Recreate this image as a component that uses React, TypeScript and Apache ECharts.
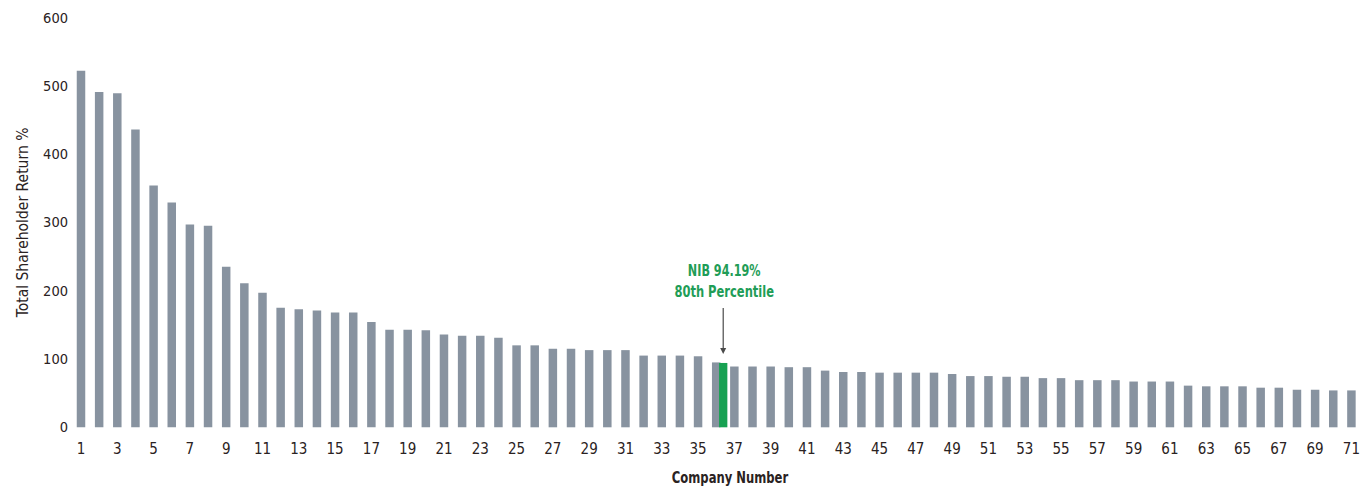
import React, { useEffect, useRef } from "react";
import * as echarts from "echarts";

const companies: string[] = Array.from({ length: 71 }, (_, i) => String(i + 1));
const returns: number[] = [
  522, 491, 489, 436, 354, 329, 297, 295, 235, 211,
  197, 175, 173, 171, 168, 168, 154, 143, 143, 142,
  136, 134, 134, 131, 120, 120, 115, 115, 113, 113,
  113, 105, 105, 105, 104, 95, 89, 89, 89, 88,
  88, 83, 81, 81, 80, 80, 80, 80, 78, 75,
  75, 74, 74, 72, 72, 69, 69, 69, 67, 67,
  67, 61, 60, 60, 60, 58, 58, 55, 55, 54, 54,
];
const nibIndex = 35;
const nibValue = 94.19;
const nibLabel = ["NIB 94.19%", "80th Percentile"];
const xTitle = "Company Number";
const yTitle = "Total Shareholder Return %";

const FONT = '"Liberation Sans Narrow", "DejaVu Sans Condensed", "Arial Narrow", sans-serif';
const TEXT = "#2a2222";
const GRAY = "#8893a0";
const GREEN = "#17a152";
const GREEN_TEXT = "#1f9d57";

export default function App() {
  const ref = useRef<HTMLDivElement>(null);
  useEffect(() => {
    document.documentElement.style.margin = "0";
    document.documentElement.style.overflow = "hidden";
    document.body.style.margin = "0";
    document.body.style.overflow = "hidden";
    const chart = echarts.init(ref.current!, null, { renderer: "svg" });
    chart.setOption({
      animation: false,
      backgroundColor: "#ffffff",
      grid: { left: 81, right: 5.3, top: 17.5, bottom: 58.7 },
      graphic: [
        {
          type: "text",
          x: 730,
          y: 478,
          scaleX: 0.86,
          style: {
            text: xTitle,
            x: 0,
            y: 0,
            align: "center",
            verticalAlign: "middle",
            fill: TEXT,
            font: `bold 15px ${FONT}`,
          },
        },
      ],
      xAxis: {
        type: "category",
        data: companies,
        boundaryGap: false,
        axisLine: { show: false },
        axisTick: { show: false },
        axisLabel: {
          interval: 1,
          color: TEXT,
          fontFamily: FONT,
          fontSize: 15,
          margin: 14,
        },
      },
      yAxis: {
        type: "value",
        min: 0,
        max: 600,
        interval: 100,
        splitLine: { show: false },
        axisLine: { show: false },
        axisTick: { show: false },
        axisLabel: {
          color: TEXT,
          fontFamily: FONT,
          fontSize: 14.5,
          margin: 13,
          padding: [5, 0, 0, 0],
        },
        name: yTitle,
        nameLocation: "middle",
        nameGap: 50,
        nameTextStyle: { color: TEXT, fontFamily: FONT, fontSize: 15.5 },
      },
      series: [
        {
          type: "bar",
          data: returns,
          barWidth: 8.5,
          clip: false,
          itemStyle: { color: GRAY },
        },
        {
          type: "custom",
          data: [[nibIndex, nibValue]],
          clip: false,
          z: 5,
          renderItem: (params: any, api: any) => {
            const idx = api.value(0);
            const val = api.value(1);
            const top = api.coord([idx, val]);
            const base = api.coord([idx, 0]);
            const cx = top[0] + 7;
            const w = 8.3;
            return {
              type: "group",
              children: [
                {
                  type: "rect",
                  shape: { x: cx - w / 2, y: top[1], width: w, height: base[1] - top[1] },
                  style: { fill: GREEN },
                },
                {
                  type: "line",
                  shape: { x1: cx, y1: top[1] - 55, x2: cx, y2: top[1] - 14 },
                  style: { stroke: "#4a4a4a", lineWidth: 1.2 },
                },
                {
                  type: "polygon",
                  shape: { points: [[cx - 3, top[1] - 15], [cx + 3, top[1] - 15], [cx, top[1] - 9]] },
                  style: { fill: "#4a4a4a" },
                },
                {
                  type: "text",
                  x: cx + 1,
                  y: top[1] - 93,
                  scaleX: 0.78,
                  style: {
                    text: nibLabel[0],
                    x: 0,
                    y: 0,
                    align: "center",
                    verticalAlign: "middle",
                    fill: GREEN_TEXT,
                    font: `bold 16px ${FONT}`,
                  },
                },
                {
                  type: "text",
                  x: cx + 1,
                  y: top[1] - 71,
                  scaleX: 0.8,
                  style: {
                    text: nibLabel[1],
                    x: 0,
                    y: 0,
                    align: "center",
                    verticalAlign: "middle",
                    fill: GREEN_TEXT,
                    font: `bold 16px ${FONT}`,
                  },
                },
              ],
            };
          },
        },
      ],
    });
    return () => chart.dispose();
  }, []);
  return (
    <div
      ref={ref}
      style={{ position: "fixed", left: 0, top: 0, width: 1363, height: 486 }}
    />
  );
}
